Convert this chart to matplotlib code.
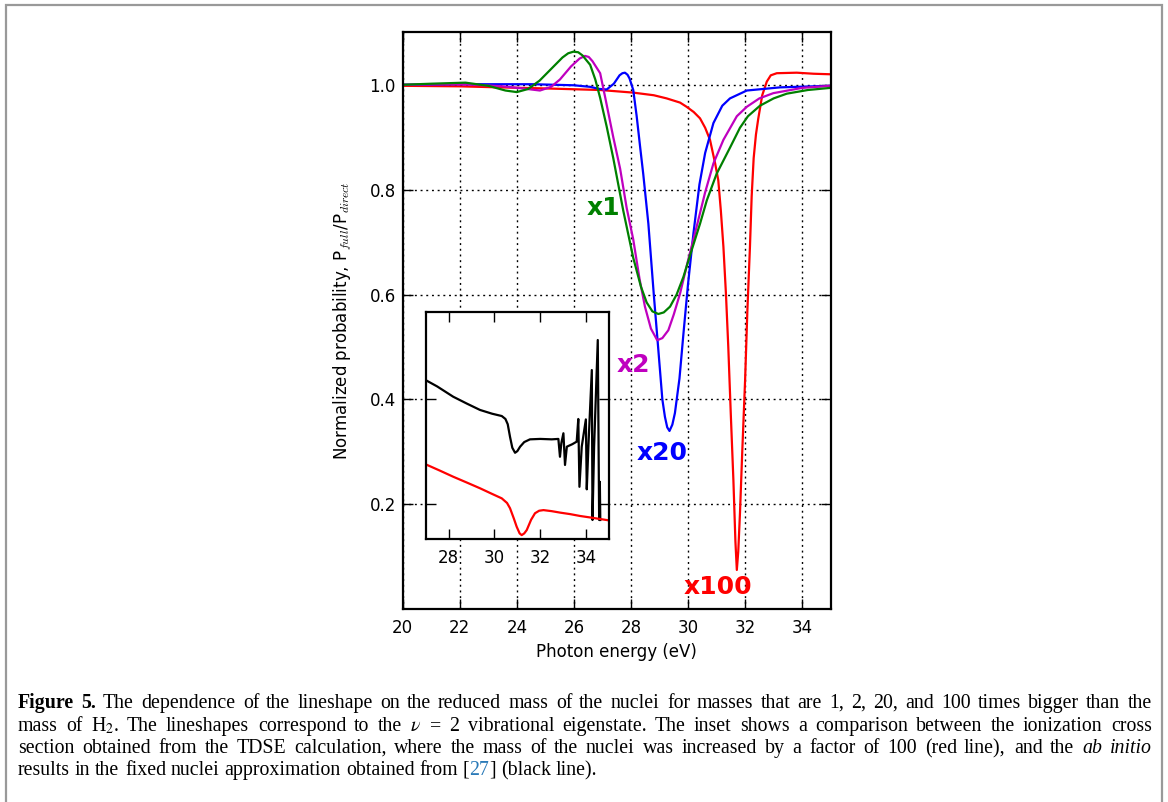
import matplotlib
matplotlib.use("Agg")
import matplotlib.pyplot as plt
from matplotlib.patches import Rectangle
from matplotlib.transforms import IdentityTransform

W, H = 1168, 802

# main panel: photon energy (eV) vs normalized probability
x1_energy = [20.0, 21.0, 22.2, 23.0, 23.6, 24.0, 24.4, 24.8, 25.2, 25.6, 25.8, 25.98, 26.15,
             26.3, 26.57, 26.75, 26.92, 27.15, 27.38, 27.73, 28.08, 28.35, 28.55, 28.75, 28.96,
             29.15, 29.37, 29.6, 29.84, 30.1, 30.42, 30.66, 31.0, 31.47, 31.82, 32.1, 32.52,
             33.0, 33.46, 34.2, 34.98]
x1_prob = [1.000, 1.002, 1.004, 0.998, 0.989, 0.986, 0.992, 1.008, 1.030, 1.052, 1.060, 1.063,
           1.062, 1.056, 1.038, 1.010, 0.975, 0.920, 0.860, 0.760, 0.670, 0.615, 0.585, 0.568,
           0.563, 0.566, 0.577, 0.600, 0.634, 0.680, 0.735, 0.780, 0.830, 0.880, 0.918, 0.940,
           0.960, 0.974, 0.983, 0.990, 0.994]

x2_energy = [20.0, 22.0, 22.83, 23.5, 24.2, 24.81, 25.2, 25.51, 25.9, 26.2, 26.39, 26.52, 26.65,
             26.92, 27.1, 27.38, 27.62, 27.85, 28.08, 28.3, 28.49, 28.7, 28.92, 29.1, 29.31,
             29.5, 29.72, 30.0, 30.3, 30.6, 30.89, 31.24, 31.71, 32.06, 32.5, 32.99, 34.0, 34.98]
x2_prob = [1.000, 1.001, 0.999, 0.997, 0.993, 0.989, 0.996, 1.010, 1.035, 1.050, 1.055, 1.053,
           1.045, 1.022, 0.975, 0.900, 0.840, 0.765, 0.705, 0.630, 0.577, 0.535, 0.513, 0.517,
           0.532, 0.562, 0.602, 0.665, 0.729, 0.795, 0.850, 0.895, 0.940, 0.958, 0.974, 0.984,
           0.994, 0.998]

x20_energy = [20.0, 22.0, 24.58, 26.0, 26.57, 26.9, 27.15, 27.4, 27.6, 27.7, 27.79, 27.88, 27.95,
              28.08, 28.2, 28.32, 28.43, 28.61, 28.8, 28.96, 29.1, 29.19, 29.27, 29.35, 29.45,
              29.54, 29.7, 29.84, 30.0, 30.19, 30.4, 30.6, 30.89, 31.2, 31.47, 32.06, 33.22, 34.98]
x20_prob = [1.000, 1.001, 1.001, 0.999, 0.996, 0.992, 0.991, 1.002, 1.018, 1.022, 1.023, 1.019,
            1.012, 0.990, 0.940, 0.882, 0.830, 0.735, 0.600, 0.494, 0.400, 0.367, 0.347, 0.340,
            0.352, 0.374, 0.440, 0.526, 0.620, 0.717, 0.810, 0.870, 0.927, 0.960, 0.974, 0.989,
            0.995, 0.998]

x100_energy = [20.0, 22.0, 23.41, 25.0, 26.92, 28.08, 28.8, 29.25, 29.72, 29.95, 30.2, 30.42,
               30.6, 30.77, 30.95, 31.06, 31.15, 31.24, 31.33, 31.41, 31.5, 31.59, 31.66, 31.71,
               31.76, 31.82, 31.9, 32.0, 32.08, 32.17, 32.23, 32.3, 32.38, 32.46, 32.6, 32.76,
               32.9, 33.11, 33.81, 34.4, 34.98]
x100_prob = [0.998, 0.997, 0.995, 0.993, 0.990, 0.985, 0.980, 0.974, 0.966, 0.958, 0.948, 0.936,
             0.918, 0.895, 0.850, 0.818, 0.760, 0.691, 0.600, 0.501, 0.370, 0.246, 0.130, 0.075,
             0.110, 0.183, 0.300, 0.437, 0.570, 0.691, 0.787, 0.860, 0.905, 0.935, 0.980, 1.006,
             1.018, 1.022, 1.023, 1.021, 1.020]

# inset: TDSE (mass x100) vs fixed-nuclei ab initio cross section, arbitrary units
tdse_energy = [27.0, 27.6, 28.2, 28.8, 29.37, 29.9, 30.32, 30.55, 30.68, 30.85, 30.97, 31.1,
               31.19, 31.3, 31.41, 31.6, 31.77, 31.95, 32.14, 32.5, 32.87, 33.3, 33.74, 34.3, 35.0]
tdse_sigma = [0.689, 0.660, 0.630, 0.602, 0.575, 0.548, 0.527, 0.505, 0.480, 0.430, 0.392, 0.360,
              0.352, 0.360, 0.376, 0.425, 0.456, 0.468, 0.471, 0.466, 0.459, 0.452, 0.443, 0.434,
              0.422]

fixed_energy = [27.0, 27.5, 28.2, 28.8, 29.37, 29.9, 30.32, 30.48, 30.58, 30.68, 30.78, 30.9,
                31.0, 31.12, 31.3, 31.55, 32.0, 32.5, 32.79, 32.86, 32.92, 33.01, 33.08, 33.16,
                33.4, 33.59, 33.66, 33.71, 33.81, 33.99, 34.03, 34.10, 34.25, 34.28, 34.35,
                34.51, 34.57, 34.60, 34.62]
fixed_sigma = [1.090, 1.060, 1.011, 0.978, 0.948, 0.930, 0.919, 0.905, 0.880, 0.820, 0.768, 0.744,
               0.752, 0.773, 0.795, 0.808, 0.810, 0.808, 0.810, 0.725, 0.790, 0.837, 0.686, 0.773,
               0.785, 0.797, 0.905, 0.582, 0.773, 0.903, 0.570, 0.773, 1.138, 0.424, 0.773,
               1.281, 0.424, 0.606, 0.424]

curve_labels = ["x1", "x2", "x20", "x100"]
label_pos = [(27.02, 0.765), (28.1, 0.466), (29.1, 0.298), (31.06, 0.043)]
curve_colors = ["#008000", "#bf00bf", "#0000ff", "#ff0000"]

x_ticks = [20, 22, 24, 26, 28, 30, 32, 34]
y_ticks = [0.2, 0.4, 0.6, 0.8, 1.0]
inset_x_ticks = [28, 30, 32, 34]

CAPTION_FS = 14.3
caption_lines = [
    ("Figure 5.", "The dependence of the lineshape on the reduced mass of the nuclei for masses "
                  "that are 1, 2, 20, and 100 times bigger than the"),
    r"mass of H$_2$. The lineshapes correspond to the $\nu$ = 2 vibrational eigenstate. "
    r"The inset shows a comparison between the ionization cross",
    ("section obtained from the TDSE calculation, where the mass of the nuclei was increased "
     "by a factor of 100 (red line), and the", "ab initio"),
    ("results in the fixed nuclei approximation obtained from", "27", "(black line)."),
]


def fig_box(left, top, right, bottom):
    return [left / W, 1 - bottom / H, (right - left) / W, (bottom - top) / H]


def draw_line(fig, renderer, words, baseline, x_left, x_right, justify):
    # words: list of lists of (text, kwargs) segments drawn side by side
    placed = []
    for word in words:
        segs = []
        width = 0.0
        for s, kw in word:
            t = fig.text(0, 0, s, fontsize=CAPTION_FS, family="Liberation Serif",
                         math_fontfamily="stix", va="baseline", ha="left",
                         transform=IdentityTransform(), **kw)
            w = t.get_window_extent(renderer).width
            segs.append((t, w))
            width += w
        placed.append((segs, width))
    total = sum(w for _, w in placed)
    space = 0.25 * CAPTION_FS * fig.dpi / 72
    if justify and len(placed) > 1:
        gap = (x_right - x_left - total) / (len(placed) - 1)
    else:
        gap = space
    x = x_left
    for segs, width in placed:
        for t, w in segs:
            t.set_position((round(x), H - baseline))
            x += w
        x += gap


def split(s, **kw):
    return [[(w, kw)] for w in s.split()]


fig = plt.figure(figsize=(W / 100, H / 100), dpi=100)
fig.patches.append(Rectangle((6 / W, -0.02), 1156 / W, 1 - 5 / H + 0.02, fill=False,
                             edgecolor="#999999", lw=1.6, transform=fig.transFigure))

ax = fig.add_axes(fig_box(402.7, 32.3, 830.7, 609.3))
for e, p, c in zip([x100_energy, x20_energy, x2_energy, x1_energy],
                   [x100_prob, x20_prob, x2_prob, x1_prob],
                   curve_colors[::-1]):
    ax.plot(e, p, color=c, lw=1.6)
for lab, (lx, ly), c in zip(curve_labels, label_pos, curve_colors):
    ax.text(lx, ly, lab, color=c, fontsize=18, fontweight="bold", ha="center", va="center")

ax.set_xlim(20, 35)
ax.set_ylim(0, 1.1)
ax.set_xticks(x_ticks)
ax.set_yticks(y_ticks)
ax.grid(True, color="black", lw=1.0, linestyle=(0, (1.4, 2.7)))
ax.tick_params(direction="in", top=True, right=True, length=7, width=1.0, labelsize=12)
ax.tick_params(axis="x", pad=7)
ax.tick_params(axis="y", pad=5)
for sp in ax.spines.values():
    sp.set_linewidth(1.6)
ax.set_xlabel("Photon energy (eV)", fontsize=12, labelpad=4)
ax.set_ylabel(r"Normalized probability, P$_{full}$/P$_{direct}$", fontsize=12,
              labelpad=11, math_fontfamily="cm")

ins = fig.add_axes(fig_box(425.7, 312.3, 609.0, 539.3))
ins.plot(fixed_energy, fixed_sigma, color="black", lw=1.6)
ins.plot(tdse_energy, tdse_sigma, color="#ff0000", lw=1.6)
ins.set_xlim(27, 35)
ins.set_ylim(0.332, 1.413)
ins.set_xticks(inset_x_ticks)
ins.set_yticks([0.5, 1.0])
ins.set_yticklabels([])
ins.tick_params(direction="in", top=True, right=True, length=7, width=1.0, labelsize=12)
ins.tick_params(axis="x", pad=7)
for sp in ins.spines.values():
    sp.set_linewidth(1.6)

renderer = fig.canvas.get_renderer()
x_left, x_right = 18, 1152
baselines = [708, 731, 753, 775]
l1 = split(caption_lines[0][0], fontweight="bold") + split(caption_lines[0][1])
l2 = split(caption_lines[1])
l3 = split(caption_lines[2][0]) + split(caption_lines[2][1], style="italic")
l4 = (split(caption_lines[3][0])
      + [[("[", {}), (caption_lines[3][1], {"color": "#2a7ab8"}), ("]", {})]]
      + split(caption_lines[3][2]))
for words, b, just in zip([l1, l2, l3, l4], baselines, [True, True, True, False]):
    draw_line(fig, renderer, words, b, x_left, x_right, just)

fig.savefig("out.png", dpi=100)
